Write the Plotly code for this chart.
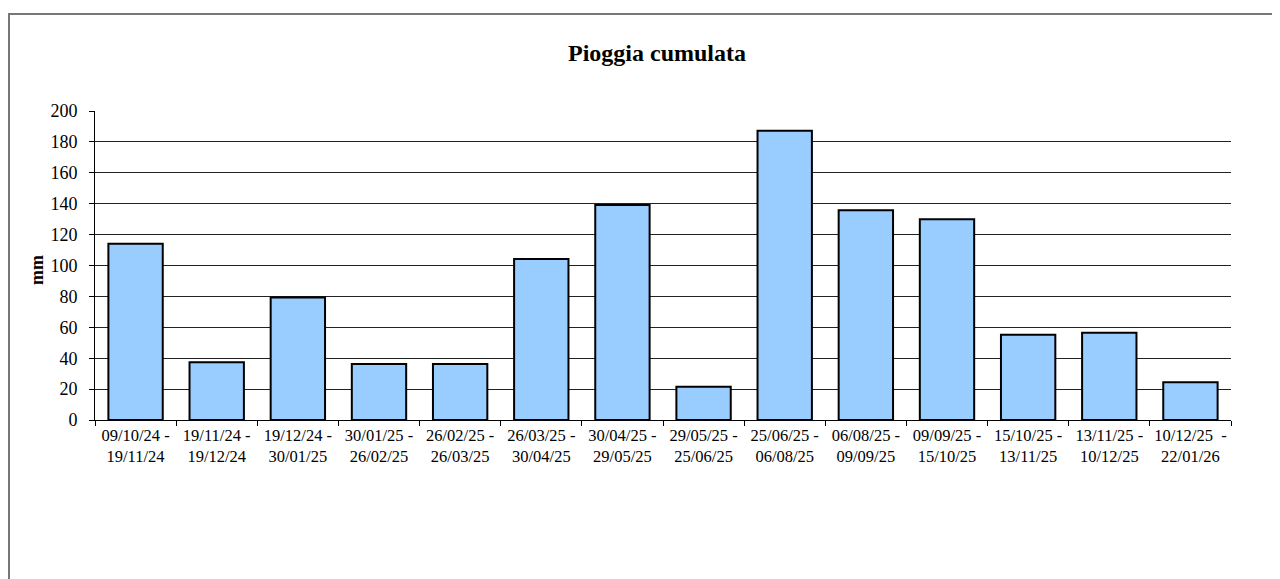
import plotly.graph_objects as go

categories = [
    "09/10/24 -<br>19/11/24", "19/11/24 -<br>19/12/24", "19/12/24 -<br>30/01/25",
    "30/01/25 -<br>26/02/25", "26/02/25 -<br>26/03/25", "26/03/25 -<br>30/04/25",
    "30/04/25 -<br>29/05/25", "29/05/25 -<br>25/06/25", "25/06/25 -<br>06/08/25",
    "06/08/25 -<br>09/09/25", "09/09/25 -<br>15/10/25", "15/10/25 -<br>13/11/25",
    "13/11/25 -<br>10/12/25", "10/12/25 \u00a0-<br>22/01/26",
]
rain_mm = [114, 37.3, 79.3, 36.2, 36.2, 104.2, 139.2, 21.6, 187.2, 135.7, 129.9, 55.2, 56.4, 24.5]

OFF = 8  # page body margin
W, H = 1280 - OFF, 579 - OFF
L, R, T, B = 95 - OFF, 1231 - OFF, 111 - OFF, 420 - OFF
pw, ph = R - L, B - T

def px_x(p):
    return (p - OFF - L) / pw

def px_y(p):
    return (B - (p - OFF)) / ph

font_family = "Liberation Serif"

fig = go.Figure(go.Bar(
    x=categories, y=rain_mm,
    marker=dict(color="#99CCFF", line=dict(color="black", width=2)),
))

fig.update_layout(
    width=W, height=H,
    margin=dict(l=L, r=W - R, t=T, b=H - B),
    paper_bgcolor="white", plot_bgcolor="white",
    showlegend=False,
    font=dict(family=font_family, color="black", size=16),
    title=dict(text="<b>Pioggia cumulata</b>", x=px_x(657), xref="paper",
               xanchor="center", y=1 - (53 - OFF) / H, yanchor="middle",
               font=dict(size=24, family=font_family, color="black")),
    bargap=0.33,
)

fig.update_xaxes(
    showline=True, linecolor="black", linewidth=1,
    ticks="outside", tickson="boundaries", ticklen=5, tickcolor="black",
    tickangle=0,
    tickfont=dict(size=16.5, family=font_family, color="black"),
    showgrid=False,
)
fig.update_yaxes(
    range=[0, 200], dtick=20, tick0=0,
    showline=True, linecolor="black", linewidth=1,
    ticks="outside", ticklen=5, tickcolor="black",
    ticklabelstandoff=8,
    tickfont=dict(size=18, family=font_family, color="black"),
    showgrid=True, gridcolor="#222222", gridwidth=1,
    zeroline=False,
)

fig.add_annotation(
    text="<b>mm</b>", xref="paper", yref="paper",
    x=px_x(37), y=px_y(270), textangle=-90, showarrow=False,
    xanchor="center", yanchor="middle",
    font=dict(size=18, family=font_family, color="black"),
)

fig.add_shape(
    type="rect", xref="paper", yref="paper",
    x0=px_x(9), x1=px_x(1300), y0=px_y(600), y1=px_y(14),
    line=dict(color="#777777", width=2), fillcolor="rgba(0,0,0,0)",
    layer="below",
)

fig.write_html("out.html")
